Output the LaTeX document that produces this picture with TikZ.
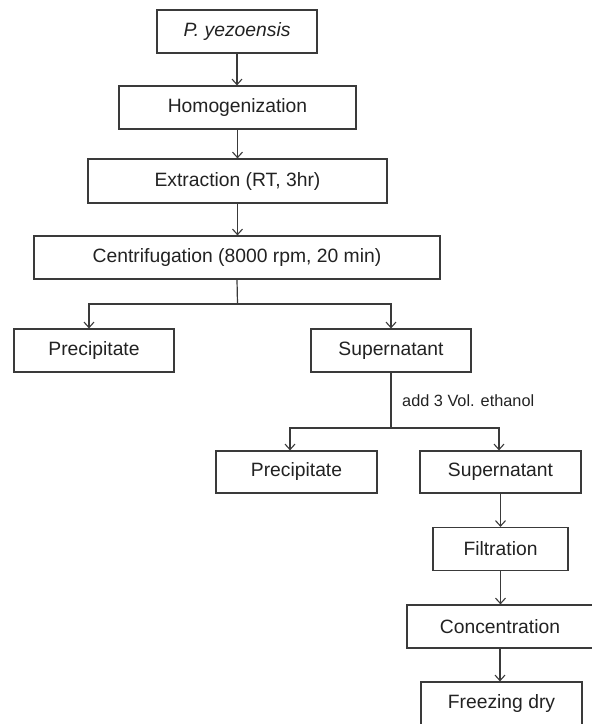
\documentclass[tikz,border=0pt]{standalone}
\usepackage{fontspec}
\setmainfont{Liberation Sans}
\usetikzlibrary{arrows.meta}
\definecolor{ln}{HTML}{3A3A3A}
\definecolor{tx}{HTML}{222222}
\tikzset{
  stepbox/.style={draw=ln, line width=1.2pt, fill=white, inner sep=0pt,
    text=tx, font=\fontsize{19.3}{22}\selectfont},
  conn/.style={draw=ln, line width=1.2pt},
  arr/.style={conn, -{Straight Barb[length=5.5pt,width=10pt,line width=1.1pt]}},
  lbl/.style={text=tx, inner sep=0pt, font=\fontsize{16.3}{19}\selectfont}
}
\begin{document}
\begin{tikzpicture}[x=1pt,y=-1pt]
\useasboundingbox (0,0) rectangle (592,724);
\node[stepbox, minimum width=160pt, minimum height=43pt] (n1) at (237,31.5) {\itshape P. yezoensis};
\node[stepbox, minimum width=237pt, minimum height=43pt] (n2) at (237.5,107.5) {Homogenization};
\node[stepbox, minimum width=299pt, minimum height=44pt] (n3) at (237.5,181) {Extraction (RT, 3hr)};
\node[stepbox, minimum width=406pt, minimum height=43pt] (n4) at (237,257.5) {Centrifugation (8000 rpm, 20 min)};
\node[stepbox, minimum width=160pt, minimum height=43pt] (n5) at (94,350.5) {Precipitate};
\node[stepbox, minimum width=160pt, minimum height=43pt] (n6) at (391,350.5) {Supernatant};
\node[stepbox, minimum width=161pt, minimum height=42pt] (n7) at (296.5,472) {Precipitate};
\node[stepbox, minimum width=161pt, minimum height=42pt] (n8) at (500.5,472) {Supernatant};
\node[stepbox, minimum width=135pt, minimum height=43pt] (n9) at (500.5,549) {Filtration};
\node[stepbox, minimum width=186pt, minimum height=43pt] (n10) at (500,626.5) {Concentration};
\node[stepbox, minimum width=161pt, minimum height=43pt] (n11) at (501.5,703.5) {Freezing dry};
\node[lbl, anchor=west] (lab) at (402,401) {add 3 Vol. ethanol};

\draw[arr] (n1.south) -- (n1.south |- n2.north);
\draw[arr] (n2.south) -- (n2.south |- n3.north);
\draw[arr] (n3.south) -- (n3.south |- n4.north);

\coordinate (j1) at (237.5,304);
\draw[conn] (n4.south) -- (j1);
\draw[arr] (j1) -| ([xshift=-5pt]n5.north);
\draw[arr] (j1) -| (n6.north);

\coordinate (j2) at (391,428);
\draw[conn] (n6.south) -- (j2);
\draw[arr] (j2) -| ([xshift=-6.5pt]n7.north);
\draw[arr] (j2) -| ([xshift=-1.5pt]n8.north);

\draw[arr] (n8.south) -- (n8.south |- n9.north);
\draw[arr] (n9.south) -- (n9.south |- n10.north);
\draw[arr] (n10.south) -- (n10.south |- n11.north);
\end{tikzpicture}
\end{document}
